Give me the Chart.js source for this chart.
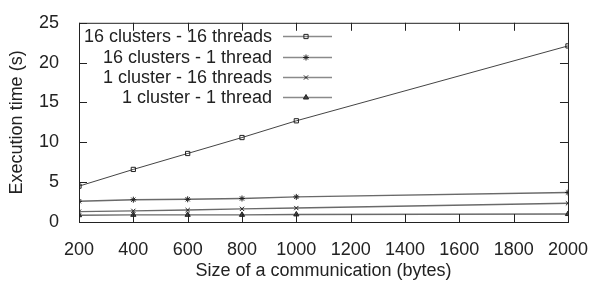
<!DOCTYPE html>
<html>
<head>
<meta charset="utf-8">
<script src="https://cdn.jsdelivr.net/npm/chart.js@4.4.0/dist/chart.umd.min.js"></script>
<style>
  html, body { margin: 0; padding: 0; background: #fff; }
  #wrap { width: 597px; height: 282px; }
</style>
</head>
<body>
<div id="wrap"><canvas id="chart"></canvas></div>
<script>
// values
const sizes = [200, 400, 600, 800, 1000, 2000];
const c16t16 = [4.5, 6.6, 8.6, 10.6, 12.7, 22.1];
const c16t1 = [2.6, 2.8, 2.85, 2.95, 3.15, 3.7];
const c1t16 = [1.3, 1.4, 1.5, 1.65, 1.75, 2.35];
const c1t1 = [0.85, 0.9, 0.9, 0.9, 0.95, 1.0];
const seriesNames = ['16 clusters - 16 threads', '16 clusters - 1 thread', '1 cluster - 16 threads', '1 cluster - 1 thread'];
const xTicks = [200, 400, 600, 800, 1000, 1200, 1400, 1600, 1800, 2000];
const yTicks = [0, 5, 10, 15, 20, 25];

const FONT = 'Liberation Sans, Arial, sans-serif';
const FSIZE = 18;
const markers = ['rect', 'star', 'crossRot', 'triangle'];

function toPoints(arr) {
    return sizes.map((s, i) => ({ x: s, y: arr[i] }));
}

const datasets = [c16t16, c16t1, c1t16, c1t1].map((arr, i) => ({
    label: seriesNames[i],
    data: toPoints(arr),
    borderColor: i === 0 ? '#444' : '#6a6a6a',
    borderWidth: i === 0 ? 1 : 1.4,
    pointStyle: markers[i],
    pointRadius: 3,
    pointBorderColor: '#222',
    pointBackgroundColor: i === 3 ? '#444' : 'rgba(0,0,0,0)',
    pointBorderWidth: 1,
    fill: false,
    tension: 0
}));

// frame + inward ticks on every side, and the gnuplot style key
const framePlugin = {
    id: 'frame',
    afterDraw(chart) {
        const ctx = chart.ctx;
        const a = chart.chartArea;
        const xs = chart.scales.x, ys = chart.scales.y;
        ctx.save();
        ctx.strokeStyle = '#222';
        ctx.lineWidth = 1;
        ctx.strokeRect(a.left + 0.5, a.top + 0.5, a.right - a.left, a.bottom - a.top);
        ctx.beginPath();
        xTicks.forEach(v => {
            const px = Math.round(xs.getPixelForValue(v)) + 0.5;
            ctx.moveTo(px, a.bottom); ctx.lineTo(px, a.bottom - 8);
            ctx.moveTo(px, a.top); ctx.lineTo(px, a.top + 8);
        });
        yTicks.forEach(v => {
            const py = Math.round(ys.getPixelForValue(v)) + 0.5;
            ctx.moveTo(a.left, py); ctx.lineTo(a.left + 8, py);
            ctx.moveTo(a.right, py); ctx.lineTo(a.right - 8, py);
        });
        ctx.stroke();

        // key
        ctx.font = FSIZE + 'px ' + FONT;
        ctx.textAlign = 'right';
        ctx.textBaseline = 'middle';
        const rows = [36, 57, 77, 97];
        chart.data.datasets.forEach((ds, i) => {
            const y = rows[i];
            ctx.fillStyle = '#222';
            ctx.fillText(ds.label, 272, y + 1);
            ctx.strokeStyle = '#8a8a8a';
            ctx.lineWidth = 1.5;
            ctx.beginPath();
            ctx.moveTo(283, y + 0.5); ctx.lineTo(332, y + 0.5);
            ctx.stroke();
            ctx.lineWidth = 1;
            ctx.strokeStyle = '#222';
            ctx.fillStyle = ds.pointBackgroundColor;
            Chart.helpers.drawPoint(ctx, {
                pointStyle: ds.pointStyle, radius: 3, rotation: 0, borderWidth: 1
            }, 306, y + 0.5);
        });
        ctx.restore();
    }
};

new Chart(document.getElementById('chart'), {
    type: 'line',
    data: { datasets: datasets },
    options: {
        responsive: true,
        maintainAspectRatio: false,
        animation: false,
        layout: { padding: { top: 18, right: 22, left: 0, bottom: 0 } },
        plugins: {
            legend: { display: false },
            tooltip: { enabled: false }
        },
        scales: {
            x: {
                type: 'linear',
                min: 200,
                max: 2000,
                afterBuildTicks: s => { s.ticks = xTicks.map(v => ({ value: v })); },
                afterFit: s => { s.height = 60; },
                grid: { display: false },
                border: { display: false },
                ticks: {
                    font: { size: FSIZE, family: FONT },
                    color: '#222',
                    padding: 9,
                    maxRotation: 0,
                    callback: v => String(v)
                },
                title: {
                    display: true,
                    text: 'Size of a communication (bytes)',
                    font: { size: FSIZE, family: FONT },
                    color: '#222',
                    padding: { top: 6, bottom: 0 }
                }
            },
            y: {
                min: 0,
                max: 25,
                afterBuildTicks: s => { s.ticks = yTicks.map(v => ({ value: v })); },
                afterFit: s => { s.width = 79; },
                grid: { display: false },
                border: { display: false },
                ticks: { font: { size: FSIZE, family: FONT }, color: '#222', padding: 12 },
                title: {
                    display: true,
                    text: 'Execution time (s)',
                    font: { size: FSIZE, family: FONT },
                    color: '#222',
                    padding: { top: 6, bottom: 4 }
                }
            }
        }
    },
    plugins: [framePlugin]
});
</script>
</body>
</html>
